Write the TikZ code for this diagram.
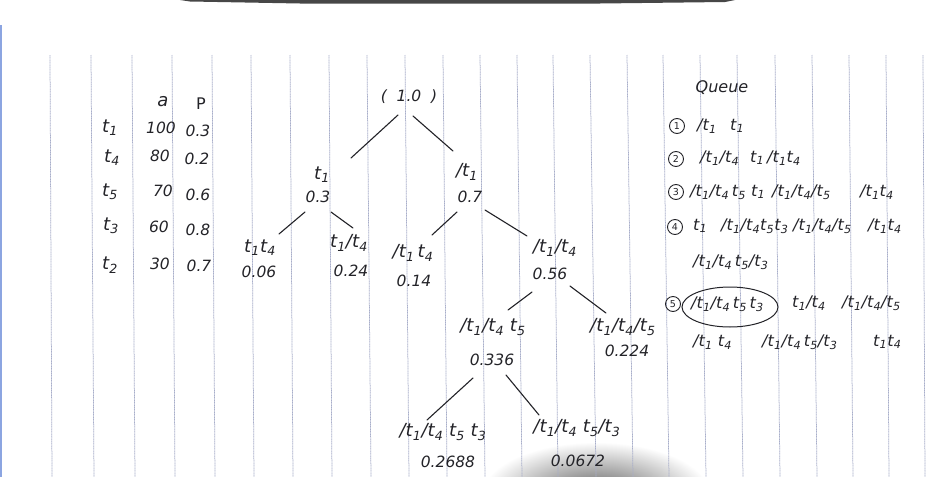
\documentclass[tikz,border=0pt]{standalone}
\usepackage{fontspec}
\setmainfont{DejaVu Sans}
\usetikzlibrary{shapes.geometric}
\definecolor{ink}{RGB}{35,35,40}
\definecolor{rulec}{RGB}{168,174,202}
\definecolor{edgeblue}{RGB}{140,165,225}
\newcommand\tk[1]{t\kern0.2pt\textsubscript{#1}}
\newcommand\nt[1]{/\tk{#1}}
\tikzset{
  hw/.style={text=ink, inner sep=0pt, font=\fontsize{18}{20}\selectfont\itshape},
  prob/.style={text=ink, inner sep=0pt, font=\fontsize{15.5}{17}\selectfont\itshape},
  num/.style={text=ink, inner sep=0pt, font=\fontsize{15.5}{17}\selectfont\itshape},
  qt/.style={text=ink, inner sep=0pt, anchor=west, font=\fontsize{16}{18}\selectfont\itshape},
  circnum/.style={circle, draw=ink, text=ink, line width=0.9pt, inner sep=0pt, minimum size=15pt, font=\fontsize{9.5}{10}\selectfont},
  edge/.style={draw=ink, line width=1.1pt, line cap=round},
  rule/.style={draw=rulec, line width=0.75pt, dash pattern=on 1.2pt off 0.5pt}
}
\begin{document}
\begin{tikzpicture}[x=1pt,y=-1pt]
\useasboundingbox (0,0) rectangle (930,477);
\fill[white] (0,0) rectangle (930,477);
% photo artefacts
\fill[edgeblue] (0,25) rectangle (1.5,477);
\fill[black!72] (180,0) -- (735,0) -- (725,2) -- (600,3.5) -- (300,3.5) -- (190,1.5) -- cycle;
\begin{scope}
\clip (0,0) rectangle (930,477);
\shade[inner color=black!65, outer color=white] (596,496) ellipse (115 and 54);
\end{scope}
% ruled lines
\foreach \a/\b in {50/52,91/94,132/135,172/175,212/215,251/254,290/293,329/332,367/371,405/409,443/447,480/485,517/522,553/558,590/596,627/633,663/669,700/706,737/743,775/780,812/817,849/853,886/889,923/925}
  \draw[rule] (\a,55) -- (\b,477);

% table
\node[hw] (ha) at (163,102) {a};
\node[hw, font=\fontsize{16}{18}\selectfont] (hp) at (201,104) {P};
\node[hw] (r1) at (110,128) {\tk1};
\node[num] (a1) at (161,128) {100};
\node[prob] (p1) at (198,131) {0.3};
\node[hw] (r2) at (112,158) {\tk4};
\node[num] (a2) at (160,156) {80};
\node[prob] (p2) at (197,159) {0.2};
\node[hw] (r3) at (110,192) {\tk5};
\node[num] (a3) at (163,191) {70};
\node[prob] (p3) at (198,195) {0.6};
\node[hw] (r4) at (111,226) {\tk3};
\node[num] (a4) at (159,227) {60};
\node[prob] (p4) at (198,230) {0.8};
\node[hw] (r5) at (110,265) {\tk2};
\node[num] (a5) at (160,264) {30};
\node[prob] (p5) at (199,266) {0.7};

% tree
\node[prob] (root) at (409,97) {(\ \ 1.0\ \ )};
\node[hw] (n1) at (322,175) {\tk1};
\node[prob] (n1p) at (318,197) {0.3};
\node[hw] (n2) at (467,172) {\nt1};
\node[prob] (n2p) at (470,197) {0.7};
\node[hw] (n3) at (260,248) {\tk1\tk4};
\node[prob] (n3p) at (259,272) {0.06};
\node[hw] (n4) at (349,243) {\tk1\nt4};
\node[prob] (n4p) at (351,271) {0.24};
\node[hw] (n5) at (413,253) {\nt1\,\tk4};
\node[prob] (n5p) at (414,281) {0.14};
\node[hw] (n6) at (555,248) {\nt1\nt4};
\node[prob] (n6p) at (550,274) {0.56};
\node[hw] (n7) at (493,327) {\nt1\nt4 \tk5};
\node[prob] (n7p) at (492,360) {0.336};
\node[hw] (n8) at (623,327) {\nt1\nt4\nt5};
\node[prob] (n8p) at (627,351) {0.224};
\node[hw] (n9) at (443,432) {\nt1\nt4 \tk5 \tk3};
\node[prob] (n9p) at (448,462) {0.2688};
\node[hw] (n10) at (577,428) {\nt1\nt4 \tk5\nt3};
\node[prob] (n10p) at (578,461) {0.0672};

\coordinate (e1a) at (398,115); \coordinate (e1b) at (351,158);
\coordinate (e2a) at (413,116); \coordinate (e2b) at (453,151);
\coordinate (e3a) at (305,212); \coordinate (e3b) at (279,234);
\coordinate (e4a) at (331,212); \coordinate (e4b) at (353,228);
\coordinate (e5a) at (457,212); \coordinate (e5b) at (432,235);
\coordinate (e6a) at (485,210); \coordinate (e6b) at (527,236);
\coordinate (e7a) at (532,292); \coordinate (e7b) at (508,310);
\coordinate (e8a) at (570,286); \coordinate (e8b) at (606,313);
\coordinate (e9a) at (473,378); \coordinate (e9b) at (427,420);
\coordinate (e10a) at (506,375); \coordinate (e10b) at (539,415);
\foreach \i in {1,...,10} \draw[edge] (e\i a) -- (e\i b);

% queue
\node[text=ink, inner sep=0pt, font=\fontsize{16}{18}\selectfont\itshape] (qh) at (722,88) {Queue};
\node[circnum] (c1) at (677,126) {1};
\node[qt] (q1a) at (697,126) {\nt1};
\node[qt] (q1b) at (730,126) {\tk1};
\node[circnum] (c2) at (676,159) {2};
\node[qt] (q2a) at (700,158) {\nt1\nt4};
\node[qt] (q2b) at (750,158) {\tk1};
\node[qt] (q2c) at (767,158) {\nt1\tk4};
\node[circnum] (c3) at (676,192) {3};
\node[qt] (q3a) at (690,192) {\nt1\nt4\,\tk5};
\node[qt] (q3b) at (751,192) {\tk1};
\node[qt] (q3c) at (772,192) {\nt1\nt4\nt5};
\node[qt] (q3d) at (860,192) {\nt1\tk4};
\node[circnum] (c4) at (675,227) {4};
\node[qt] (q4a) at (693,226) {\tk1};
\node[qt] (q4b) at (721,226) {\nt1\nt4\tk5\tk3};
\node[qt] (q4c) at (793,226) {\nt1\nt4\nt5};
\node[qt] (q4d) at (868,226) {\nt1\tk4};
\node[qt] (q4e) at (693,262) {\nt1\nt4\,\tk5\nt3};
\node[circnum] (c5) at (673,304) {5};
\node[ellipse, draw=ink, line width=1pt, minimum width=96pt, minimum height=40pt] (q5o) at (730,307) {};
\node[qt] (q5a) at (691,304) {\nt1\nt4\,\tk5\,\tk3};
\node[qt] (q5b) at (792,303) {\tk1\nt4};
\node[qt] (q5c) at (842,303) {\nt1\nt4\nt5};
\node[qt] (q6a) at (693,342) {\nt1 \tk4};
\node[qt] (q6b) at (762,342) {\nt1\nt4\,\tk5\nt3};
\node[qt] (q6c) at (873,342) {\tk1\tk4};
\end{tikzpicture}
\end{document}
